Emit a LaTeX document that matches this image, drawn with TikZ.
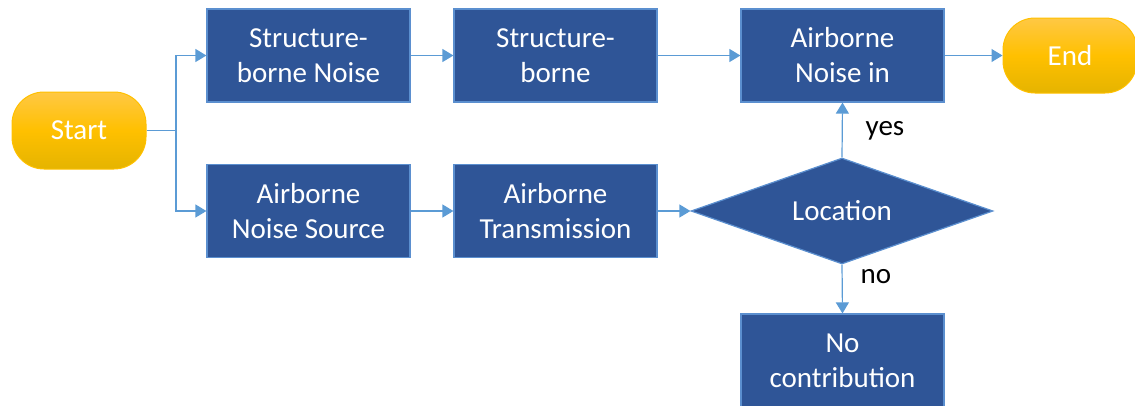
\documentclass[tikz,border=0pt]{standalone}
\usepackage{fontspec}
\setmainfont{Carlito}
\usetikzlibrary{shapes.geometric,arrows.meta}
\definecolor{boxfill}{HTML}{2F5597}
\definecolor{boxline}{HTML}{5B8FCF}
\definecolor{conn}{HTML}{5B9BD5}
\definecolor{ytop}{HTML}{FFC844}
\definecolor{ymid}{HTML}{FFC000}
\definecolor{ybot}{HTML}{E5B400}
\definecolor{yline}{HTML}{FFC000}
\begin{document}
\begin{tikzpicture}[x=1pt,y=-1pt,
  every node/.style={font=\fontsize{29}{35}\selectfont},
  procbox/.style={rectangle,draw=boxline,line width=1.2pt,fill=boxfill,text=white,
    minimum width=203pt,minimum height=93pt,align=center,inner sep=0pt},
  termbox/.style={rectangle,rounded corners=32pt,draw=yline,line width=1pt,
    top color=ytop,bottom color=ybot,middle color=ymid,text=white,
    minimum height=77pt,inner sep=0pt},
  decbox/.style={diamond,draw=boxline,line width=1.2pt,fill=boxfill,text=white,
    minimum width=302pt,minimum height=106pt,aspect=2.85,inner sep=0pt},
  lbl/.style={text=black},
  arr/.style={draw=conn,line width=1.2pt,-{Triangle[length=11pt,width=13pt]}},
  ln/.style={draw=conn,line width=1.2pt}]
\useasboundingbox (0,0) rectangle (1135,405);
\clip (0,0) rectangle (1135,405);
\node[termbox,minimum width=134pt] (start) at (79,130.5) {Start};
\node[procbox] (b1) at (308.5,55.5) {Structure-\\borne Noise};
\node[procbox] (b2) at (555.5,55.5) {Structure-\\borne};
\node[procbox] (b3) at (842.5,55.5) {Airborne\\Noise in};
\node[termbox,minimum width=134pt,minimum height=75pt] (end) at (1070,55.5) {End};
\node[procbox] (b4) at (308.5,211) {Airborne\\Noise Source};
\node[procbox] (b5) at (555.5,211) {Airborne\\Transmission};
\node[decbox] (loc) at (842,211) {Location};
\node[procbox] (b6) at (842.5,360.5) {No\\contribution};
\coordinate (split) at (176,130.5);
\draw[ln] (start.east) -- (split);
\draw[arr] (split) |- (b1.west);
\draw[arr] (split) |- (b4.west);
\draw[arr] (b1) -- (b2);
\draw[arr] (b2) -- (b3);
\draw[arr] (b3) -- (end);
\draw[arr] (b4) -- (b5);
\draw[arr] (b5.east) -- (loc.west);
\draw[arr] (loc.north) -- (b3.south);
\draw[arr] (loc.south) -- (b6.north);
\node[lbl] (yes) at (885,131) {yes};
\node[lbl] (no) at (876,277) {no};
\end{tikzpicture}
\end{document}
